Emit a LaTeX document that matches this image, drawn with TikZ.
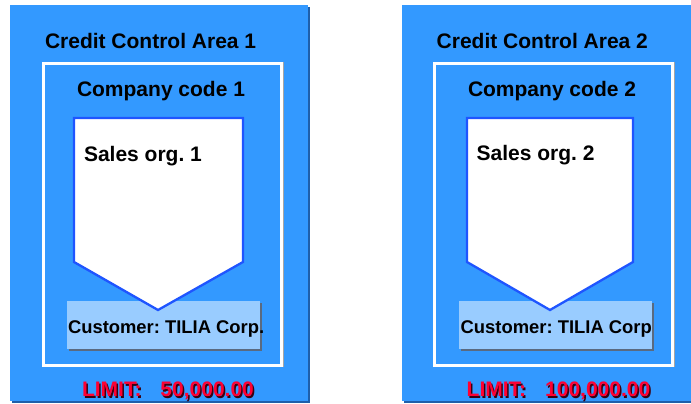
\documentclass[tikz,border=0pt]{standalone}
\usepackage{fontspec}
\setmainfont{Liberation Sans}
\frenchspacing
\definecolor{areablue}{HTML}{3399FF}
\definecolor{areashadow}{HTML}{1F5FAA}
\definecolor{custblue}{HTML}{99CCFF}
\definecolor{custshadow}{HTML}{5A6A80}
\definecolor{orgline}{HTML}{1F55FF}
\definecolor{limitred}{HTML}{FF0033}
\definecolor{limitshadow}{HTML}{3A0010}
\tikzset{
  every node/.append style={outer sep=0},
  areabox/.style={draw=none, fill=areablue, anchor=north west, inner sep=0, minimum width=298pt, minimum height=396pt},
  areashad/.style={draw=none, fill=areashadow, anchor=north west, inner sep=0, minimum width=298pt, minimum height=396pt},
  ccframe/.style={draw=white, line width=3pt, anchor=north west, inner sep=0, minimum width=238pt, minimum height=301.5pt},
  ccshad/.style={draw=gray!70, line width=0.8pt, anchor=north west, inner sep=0, minimum width=241pt, minimum height=304.5pt},
  custbox/.style={fill=custblue, draw=none, anchor=north west, inner sep=0, minimum width=193pt, minimum height=48pt},
  custshad/.style={fill=custshadow, draw=none, anchor=north west, inner sep=0, minimum width=193pt, minimum height=48pt},
  orgshape/.style={fill=white, draw=orgline, line width=2.3pt, line join=miter},
  bigtxt/.style={anchor=base west, inner sep=0, font=\bfseries\fontsize{21}{24}\selectfont},
  custtxt/.style={anchor=base west, inner sep=0, font=\bfseries\fontsize{18.4}{22}\selectfont},
  limittxt/.style={anchor=base west, inner sep=0, font=\bfseries\fontsize{21}{24}\selectfont, text=limitred},
  limitshad/.style={anchor=base west, inner sep=0, font=\bfseries\fontsize{21}{24}\selectfont, text=limitshadow}
}
\begin{document}
\begin{tikzpicture}[x=1pt,y=-1pt]
\useasboundingbox (0,0) rectangle (691,404);
\clip (0,0) rectangle (691,404);
\fill[white] (0,0) rectangle (691,404);
% ---------- Area 1 ----------
\node[areashad] (a1s) at (12,7) {};
\node[areabox] (a1) at (10,5) {};
\node[ccshad] (c1s) at (42,62) {};
\node[ccframe] (c1) at (43.5,63.5) {};
\node[custshad] (cu1s) at (69,303) {};
\node[custbox] (cu1) at (67,301) {};
\draw[orgshape] (74,118) -- (243,118) -- (243,262) -- (158,310) -- (74,262) -- cycle;
\node[bigtxt] (t1) at (45,48.5) {Credit Control Area 1};
\node[bigtxt] (cc1) at (77,96.5) {Company code 1};
\node[bigtxt] (so1) at (84,161) {Sales org. 1};
\node[custtxt] (ct1) at (68,333.5) {Customer: TILIA Corp.};
\node[limitshad] (l1s) at (83.5,398) {LIMIT:\hspace{19pt}50,000.00};
\node[limittxt] (l1) at (82,396.7) {LIMIT:\hspace{19pt}50,000.00};
% ---------- Area 2 ----------
\node[areashad] (a2s) at (404,7) {};
\node[areabox] (a2) at (402,5) {};
\node[ccshad] (c2s) at (433,62) {};
\node[ccframe] (c2) at (434.5,63.5) {};
\node[custshad] (cu2s) at (461,303) {};
\node[custbox] (cu2) at (459,301) {};
\draw[orgshape] (467,118) -- (633,118) -- (633,262) -- (550,310) -- (467,262) -- cycle;
\node[bigtxt] (t2) at (436.7,48.3) {Credit Control Area 2};
\node[bigtxt] (cc2) at (468,96.7) {Company code 2};
\node[bigtxt] (so2) at (476.7,160.5) {Sales org. 2};
\node[custtxt] (ct2) at (460.7,333.5) {Customer: TILIA Corp};
\node[limitshad] (l2s) at (468.2,398) {LIMIT:\hspace{19pt}100,000.00};
\node[limittxt] (l2) at (466.7,396.7) {LIMIT:\hspace{19pt}100,000.00};
\end{tikzpicture}
\end{document}
